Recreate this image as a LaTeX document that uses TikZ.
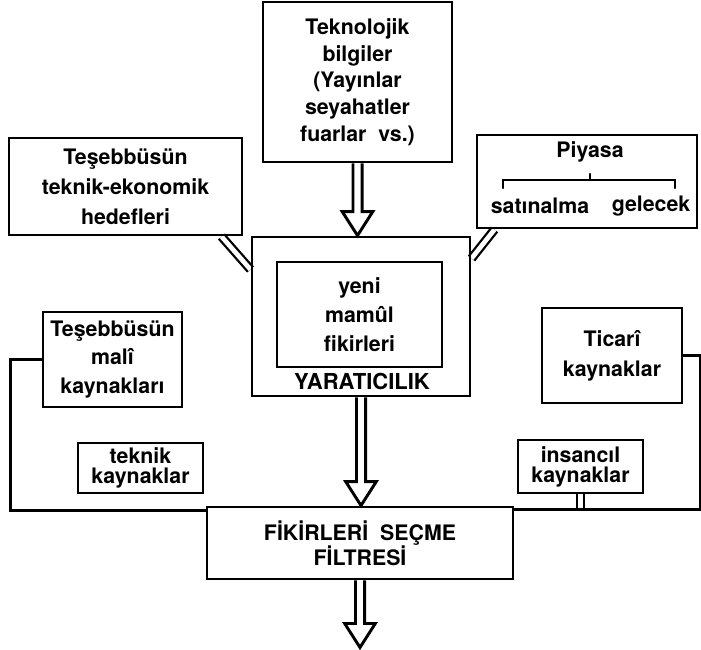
\documentclass[tikz,border=0pt]{standalone}
\usepackage{fontspec}
\setmainfont{TeX Gyre Heros}
\usetikzlibrary{calc, positioning, backgrounds}

\newcommand\boxfont[1]{\bfseries\fontsize{16}{#1}\selectfont}

\begin{document}
\begin{tikzpicture}[
    x=0.75pt, y=-0.75pt, % one unit is one pixel, y grows downwards
    box/.style={draw, line width=2.2pt, inner sep=0pt, align=center, font=\boxfont{21}}, % framed box
    word/.style={inner sep=0pt, font=\boxfont{18}}, % loose text
    link/.style={line width=2pt}, % plain connector
    pipe/.style={line width=1.7pt, double, double distance=3.5pt}, % double connector
    hollow/.style={line width=2.2pt, miter limit=10, to path={
        let \p1=(\tikztostart), \p2=(\tikztotarget) in
        (\x1-3.4pt,\y1) -- (\x1-3.4pt,\y2+18pt) -- (\x1-11.5pt,\y2+18pt) -- (\x2,\y2)
        -- (\x1+11.5pt,\y2+18pt) -- (\x1+3.4pt,\y2+18pt) -- (\x1+3.4pt,\y1)}} % open arrow
]
    \useasboundingbox (0,0) rectangle (701,650);

    % Sources on top
    \node[box, minimum width=141.75pt, minimum height=120pt, font=\boxfont{20}] (tek) at (357.5,82)
        {Teknolojik\\bilgiler\\(Yayınlar\\seyahatler\\fuarlar\ \ vs.)};
    \node[box, minimum width=174.75pt, minimum height=72.75pt, font=\boxfont{22.5}] (tekeko) at (125.5,186.5)
        {Teşebbüsün\\teknik-ekonomik\\hedefleri};
    \node[box, minimum width=165pt, minimum height=69.75pt] (piyasa) at (587,181.5) {};

    % Market box contents
    \node[word] (piy) at (590,152) {Piyasa};
    \node[word] (satin) at (540,206) {satınalma};
    \node[word] (gel) at (651,206) {gelecek};
    \draw[line width=1.6pt, line cap=round] (503,188) -- (503,180) -- (675,180) -- (675,188);
    \draw[line width=1.6pt, line cap=round] (590,180) -- (590,174);

    % Creativity
    \node[box, minimum width=163.5pt, minimum height=119.25pt] (yar) at (361,316.5) {};
    \node[box, minimum width=123.75pt, minimum height=78.75pt, font=\boxfont{22}] (yeni) at (359.5,314.5)
        {yeni\\mamûl\\fikirleri};
    \node[word, font=\bfseries\fontsize{16.5}{18}\selectfont] (yarlbl) at (362,381) {YARATICILIK};

    % Resources
    \node[box, minimum width=104.25pt, minimum height=71.25pt, font=\boxfont{21.5}] (mali) at (112.5,359.5)
        {Teşebbüsün\\malî\\kaynakları};
    \node[box, minimum width=93.75pt, minimum height=37.5pt, font=\boxfont{15}] (teknik) at (140.5,468)
        {teknik\\kaynaklar};
    \node[box, minimum width=105pt, minimum height=71.25pt, font=\boxfont{22.5}] (ticari) at (612,355.5)
        {Ticarî\\kaynaklar};
    \node[box, minimum width=93.75pt, minimum height=39.75pt, font=\boxfont{15}] (insan) at (580.5,466.5)
        {insancıl\\kaynaklar};

    % Filter
    \node[box, minimum width=229.5pt, minimum height=54pt, font=\boxfont{19}] (filtre) at (360,543)
        {FİKİRLERİ\ \ SEÇME\\FİLTRESİ};

    % Connectors
    \draw[hollow] (tek.south) to (tek.south |- yar.north);
    \draw[hollow] (yar.south) to (yar.south |- filtre.north);
    \coordinate (out) at ($(filtre.south)+(0,67)$);
    \draw[hollow] (filtre.south) to (out);

    \coordinate (rline) at ($(filtre.north east)+(0,4)$);
    \begin{scope}[on background layer]
        \draw[pipe] ($(tekeko.south east)+(-22,0)$) -- ($(yar.north west)+(0,34)$);
        \draw[pipe] ($(piyasa.south west)+(19,0)$) -- ($(yar.north east)+(0,23)$);
        \draw[pipe] (insan.south) -- (insan.south |- rline);
    \end{scope}
    \draw[link] (mali.west) -- ++(-31,0) |- ($(filtre.north west)+(0,5)$);
    \draw[link] (ticari.east) -- ++(17,0) |- (rline);

\end{tikzpicture}
\end{document}
